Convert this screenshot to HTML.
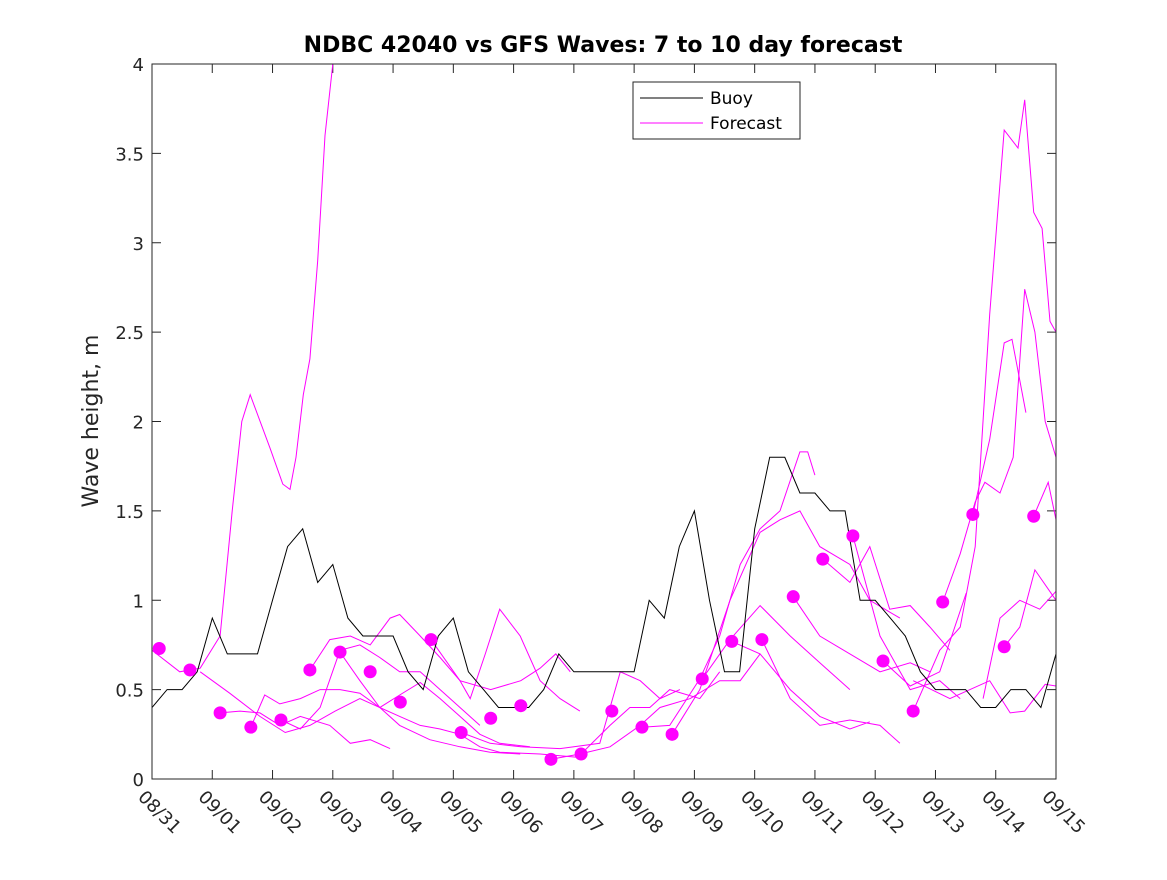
<!DOCTYPE html>
<html><head><meta charset="utf-8"><style>
body{margin:0;background:#fff;width:1167px;height:875px;overflow:hidden}
svg text{font-family:"DejaVu Sans","Liberation Sans",sans-serif;fill:#262626}
</style></head><body>
<svg id="chart" width="1167" height="875" viewBox="0 0 1167 875" xmlns="http://www.w3.org/2000/svg">
<defs><clipPath id="clip"><rect x="152" y="64" width="904" height="715"/></clipPath></defs>
<rect x="0" y="0" width="1167" height="875" fill="#fff"/>
<rect x="152" y="64" width="904" height="715" fill="#fff"/>
<text x="603" y="52" text-anchor="middle" font-size="22" font-weight="bold" style="fill:#000">NDBC 42040 vs GFS Waves: 7 to 10 day forecast</text>
<text transform="translate(98,421) rotate(-90)" text-anchor="middle" font-size="22">Wave height, m</text>
<g id="ticks"></g>
<g id="series" clip-path="url(#clip)"></g>
<rect x="152" y="64" width="904" height="715" fill="none" stroke="#262626" stroke-width="1"/>
<g>
<rect x="633" y="82" width="167" height="57" fill="#fff" stroke="#262626"/>
<line x1="640" y1="98" x2="703" y2="98" stroke="#000"/>
<text x="710" y="104" font-size="17" style="fill:#000">Buoy</text>
<line x1="640" y1="123" x2="703" y2="123" stroke="#f0f"/>
<text x="710" y="129" font-size="17" style="fill:#000">Forecast</text>
</g>
</svg>
<script>
const xTickLabels=["08/31","09/01","09/02","09/03","09/04","09/05","09/06","09/07","09/08","09/09","09/10","09/11","09/12","09/13","09/14","09/15"];
const yTicks=[0,0.5,1,1.5,2,2.5,3,3.5,4];
const yTickLabels=["0","0.5","1","1.5","2","2.5","3","3.5","4"];
const buoyStep=0.25;
const buoyValues=[0.4,0.5,0.5,0.6,0.9,0.7,0.7,0.7,1.0,1.3,1.4,1.1,1.2,0.9,0.8,0.8,0.8,0.6,0.5,0.8,0.9,0.6,0.5,0.4,0.4,0.4,0.5,0.7,0.6,0.6,0.6,0.6,0.6,1.0,0.9,1.3,1.5,1.0,0.6,0.6,1.4,1.8,1.8,1.6,1.6,1.5,1.5,1.0,1.0,0.9,0.8,0.6,0.5,0.5,0.5,0.4,0.4,0.5,0.5,0.4,0.7];
const dotTimes=[0.12,0.63,1.13,1.64,2.14,2.62,3.12,3.62,4.12,4.63,5.13,5.62,6.12,6.62,7.12,7.63,8.13,8.63,9.13,9.62,10.12,10.64,11.13,11.63,12.13,12.63,13.12,13.62,14.14,14.63];
const dotValues=[0.73,0.61,0.37,0.29,0.33,0.61,0.71,0.60,0.43,0.78,0.26,0.34,0.41,0.11,0.14,0.38,0.29,0.25,0.56,0.77,0.78,1.02,1.23,1.36,0.66,0.38,0.99,1.48,0.74,1.47];
const fcTimes=[
[0,.46,.8,1.13,1.33,1.49,1.63,1.96,2.17,2.29,2.39,2.51,2.62,2.75,2.87,3.0],
[1.13,1.46,1.79,2.12,2.46,2.95,3.29,3.62,3.95],
[.8,1.29,1.79,2.21,2.62,3.04,3.45,3.78,4.11,4.61,5.11,5.61,6.11],
[1.64,1.87,2.12,2.46,2.79,3.12,3.45,3.78,4.11,4.45,4.78,5.11,5.44,5.77,6.27],
[2.14,2.46,2.79,3.12,3.45,3.78,4.11,4.45,4.78,5.11,5.44],
[2.62,2.95,3.29,3.62,3.95,4.11,4.45,4.78,5.11,5.28,5.53,5.77,6.11,6.44,6.77,7.1],
[3.12,3.45,3.78,4.11,4.45,4.78,5.11,5.44,5.77,6.44,7.1],
[4.63,5.11,5.62,6.12,6.44,6.7,6.94],
[5.13,5.61,6.12,6.77,7.43,7.77,8.1,8.43,8.76],
[6.62,7.1,7.6,8.1,8.43,8.93,9.42,9.76,10.09],
[7.12,7.6,7.93,8.26,8.59,9.09,9.42],
[8.13,8.59,9.09,9.42,9.76,10.09,10.42,10.75,10.88,11.0],
[8.63,9.09,9.59,10.09,10.42,10.75,11.08,11.58,11.91,12.41],
[9.13,9.59,10.09,10.59,11.08,11.58],
[9.62,10.09,10.59,11.08,11.58,11.91],
[10.12,10.59,11.08,11.58,12.08,12.41],
[10.64,11.08,11.58,12.08,12.58,12.91],
[11.13,11.58,11.91,12.24,12.58,12.91,13.24],
[11.63,12.08,12.58,13.07,13.41],
[12.13,12.58,13.07,13.51],
[12.63,13.07,13.41,13.66,13.9,14.14,14.37,14.48,14.63,14.77,14.9,15],
[13.12,13.41,13.66,13.82,14.07,14.29,14.48,14.65,14.82,15],
[13.62,13.9,14.14,14.27,14.5],
[14.14,14.4,14.65,15],
[14.63,14.87,15],
[12.63,13.24,13.9,14.24,14.48,14.82,15],
[13.79,14.07,14.4,14.73,15]];
const fcValues=[
[.72,.6,.62,.8,1.5,2.0,2.15,1.85,1.65,1.62,1.8,2.15,2.35,2.9,3.6,4.0],
[.37,.38,.37,.3,.35,.3,.2,.22,.17],
[.6,.48,.35,.26,.3,.38,.45,.4,.3,.22,.18,.15,.14],
[.29,.47,.42,.45,.5,.5,.48,.4,.47,.54,.45,.35,.25,.2,.18],
[.33,.28,.4,.72,.75,.68,.6,.6,.5,.4,.3],
[.61,.78,.8,.75,.9,.92,.8,.68,.55,.45,.7,.95,.8,.55,.45,.38],
[.71,.55,.4,.35,.3,.28,.25,.18,.15,.14,.12],
[.78,.55,.5,.55,.62,.7,.6],
[.26,.2,.18,.17,.2,.6,.55,.45,.5],
[.11,.14,.18,.3,.4,.45,.55,.55,.7],
[.14,.3,.4,.4,.5,.45,.6],
[.29,.3,.56,.8,1.2,1.4,1.5,1.83,1.83,1.7],
[.25,.5,1.0,1.38,1.45,1.5,1.3,1.2,1.0,.9],
[.56,.78,.97,.8,.65,.5],
[.77,.7,.5,.35,.28,.32],
[.78,.45,.3,.33,.3,.2],
[1.02,.8,.7,.6,.65,.6],
[1.23,1.1,1.3,.95,.97,.85,.72],
[1.36,.8,.5,.55,.45],
[.66,.52,.6,1.04],
[.38,.72,.85,1.3,2.6,3.63,3.53,3.8,3.17,3.08,2.56,2.5],
[.99,1.26,1.55,1.66,1.6,1.8,2.74,2.5,2.0,1.8],
[1.48,1.9,2.44,2.46,2.05],
[.74,.85,1.17,1.0],
[1.47,1.66,1.45],
[.55,.45,.55,.37,.38,.53,.52],
[.45,.9,1.0,.95,1.05]];

const X0=152,X1=1056,Y0=779,Y1=64;
const xs=d=>X0+(X1-X0)*d/15;
const ys=v=>Y0-(Y0-Y1)*v/4;
const NS="http://www.w3.org/2000/svg";
const ticks=document.getElementById('ticks'),series=document.getElementById('series');
function mk(tag,attrs,parent){const e=document.createElementNS(NS,tag);for(const k in attrs)e.setAttribute(k,attrs[k]);parent.appendChild(e);return e;}
xTickLabels.forEach((lab,i)=>{
  const x=xs(i);
  const t1=mk('line',{x1:x,y1:Y0,x2:x,y2:Y0-9,stroke:'#262626'},ticks);
  
  
  const t2=mk('line',{x1:x,y1:Y1,x2:x,y2:Y1+9,stroke:'#262626'},ticks);
  
  
  const tx=mk('text',{x:0,y:0,'font-size':18,transform:`translate(${x-15},${Y0+19}) rotate(45)`},ticks);
  tx.textContent=lab;
  
  
});
yTicks.forEach((v,i)=>{
  const y=ys(v);
  const t1=mk('line',{x1:X0,y1:y,x2:X0+9,y2:y,stroke:'#262626'},ticks);
  
  
  const t2=mk('line',{x1:X1,y1:y,x2:X1-9,y2:y,stroke:'#262626'},ticks);
  
  
  const tx=mk('text',{x:X0-8,y:y+7,'font-size':18,'text-anchor':'end'},ticks);
  tx.textContent=yTickLabels[i];
  
  
});
fcTimes.forEach((ts,i)=>{
  const pts=ts.map((t,j)=>xs(t).toFixed(1)+','+ys(fcValues[i][j]).toFixed(1)).join(' ');
  const pl=mk('polyline',{points:pts,fill:'none',stroke:'#f0f','stroke-width':1},series);
  
  
});
const bp=buoyValues.map((v,i)=>xs(i*buoyStep).toFixed(1)+','+ys(v).toFixed(1));
const bl=mk('polyline',{points:bp.join(' '),fill:'none',stroke:'#000','stroke-width':1},series);


dotTimes.forEach((t,i)=>{
  const c=mk('circle',{cx:xs(t),cy:ys(dotValues[i]),r:6.5,fill:'#f0f'},series);
  
  
});
</script>
</body></html>
